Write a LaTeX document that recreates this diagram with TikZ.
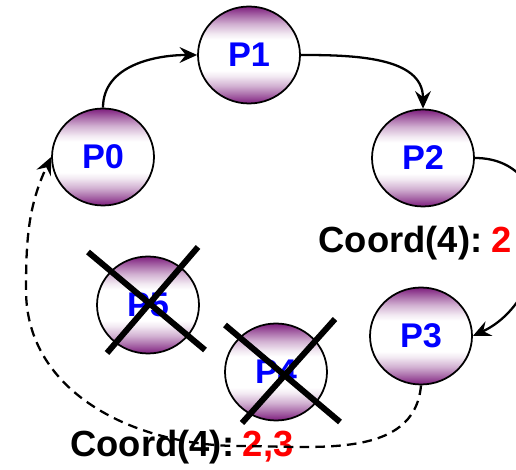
\documentclass[tikz,border=0pt]{standalone}
\usepackage{fontspec}
\setmainfont{Liberation Sans}
\usepackage{xcolor}
\usetikzlibrary{shapes.geometric,arrows.meta,positioning}

\definecolor{procpurple}{RGB}{125,30,125}
\pgfdeclareverticalshading{procshade}{100bp}{color(0bp)=(procpurple); color(25bp)=(procpurple);
    color(29bp)=(procpurple!70); color(34bp)=(procpurple!35); color(39bp)=(procpurple!10);
    color(42bp)=(white); color(58bp)=(white); color(61bp)=(procpurple!10); color(66bp)=(procpurple!35);
    color(71bp)=(procpurple!70); color(75bp)=(procpurple); color(100bp)=(procpurple)}

\begin{document}
\begin{tikzpicture}[
    x=0.02cm, y=0.02cm,
    proc/.style={ellipse, draw, line width=1pt, minimum width=2.04cm, minimum height=1.94cm,
        inner sep=0pt, shading=procshade,
        font=\fontsize{19.5}{20}\selectfont\bfseries, text=blue},
    link/.style={line width=1.3pt, -{Stealth[length=10pt,width=9pt,inset=3.5pt]}},
    crash/.style={line width=3.4pt},
    coordlabel/.style={font=\fontsize{20.7}{21}\selectfont\bfseries, inner sep=0pt}
]
    \useasboundingbox (0,0) rectangle (516,469);

    % processes on the ring
    \node[proc] (p0) at (103,312) {P0};
    \node[proc] (p1) at (249,414) {P1};
    \node[proc] (p2) at (423,311) {P2};
    \node[proc] (p3) at (421,133) {P3};
    \node[proc] (p5) at (148,164) {P5};
    \node[proc] (p4) at (276,97) {P4};

    % crashed ones
    \draw[crash] (88,217) -- (205,119);
    \draw[crash] (198,222) -- (107,116);
    \draw[crash] (225,144) -- (340,47);
    \draw[crash] (335,150) -- (242,46);

    % coordinator messages
    \node[coordlabel] (msgA) at (415,226) {Coord(4):\kern5pt\textcolor{red}{2}};
    \node[coordlabel] (msgB) at (182,22) {Coord(4):\kern5pt\textcolor{red}{2,3}};

    \draw[link] (p0.north) to[out=90,in=180] (p1.west);
    \draw[link] (p1.east) to[out=0,in=90] (p2.north);
    \draw[link] (p2.east) to[out=0,in=25,looseness=1.3] (p3.east);

    \coordinate (lowpt) at (240,23);
    \coordinate (sidept) at (26,179);
    \draw[line width=1.3pt, dash pattern=on 5.5pt off 3.5pt] (p3.south) to[out=-95,in=0] (lowpt)
        to[out=180,in=-90] (sidept);
    \draw[link, dash pattern=on 5.5pt off 3.5pt] (sidept) to[out=90,in=-115] (p0.west);
\end{tikzpicture}
\end{document}
